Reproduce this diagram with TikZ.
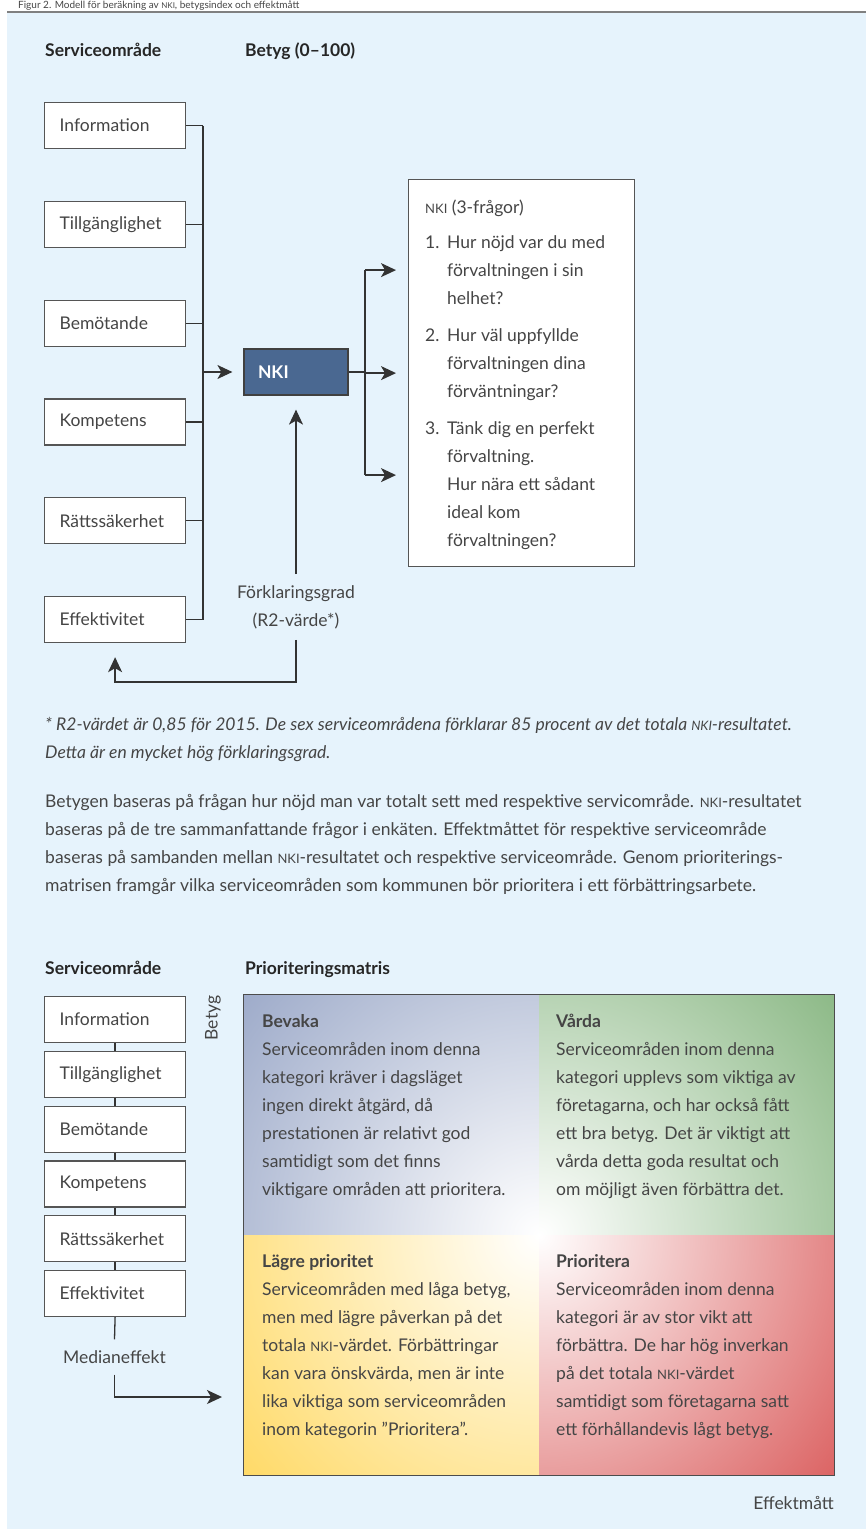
\documentclass[tikz,border=0pt]{standalone}
\usepackage{fontspec}
\setmainfont{Lato}
\usetikzlibrary{arrows,arrows.meta,positioning}

\definecolor{bakgrund}{HTML}{E6F3FC}
\definecolor{textgra}{HTML}{454545}
\definecolor{ramgra}{HTML}{555555}
\definecolor{nkibla}{HTML}{4A6891}
\definecolor{bevakafarg}{HTML}{97A5C6}
\definecolor{vardafarg}{HTML}{84B47E}
\definecolor{lagrefarg}{HTML}{FFD75C}
\definecolor{priofarg}{HTML}{D95858}

\newcommand{\brodtext}{\fontsize{17.5}{28}\selectfont}
\newcommand{\nki}{{\fontsize{13}{13}\selectfont NKI}}

\begin{document}
\begin{tikzpicture}[
        x=1pt, y=-1pt,
        omrade/.style={
            draw=ramgra,
            fill=white,
            line width=1.2pt,
            anchor=north west,
            text width=111pt,
            inner xsep=15pt,
            inner ysep=0pt,
            minimum height=46pt,
            align=left,
            font=\brodtext,
            text=textgra
        },
        nkiruta/.style={
            draw=black!75,
            fill=nkibla,
            line width=1.2pt,
            text width=76pt,
            inner xsep=14pt,
            inner ysep=0pt,
            minimum height=46pt,
            align=left,
            font=\brodtext\bfseries,
            text=white
        },
        rubrik/.style={anchor=base west, inner sep=0pt, font=\brodtext\bfseries, text=black!85},
        brod/.style={inner sep=0pt, align=left, font=\brodtext, text=textgra},
        linje/.style={draw=black!80, line width=1.3pt},
        pil/.style={
           linje,
           -{Stealth[length=15pt, width=14pt, inset=4pt]}
        }
    ]
    \useasboundingbox (0,0) rectangle (866,1530);
    \clip (0,0) rectangle (866,1530);
    \fill[bakgrund] (7,13) rectangle (866,1529);
    \draw[gray, line width=2pt] (7,12) -- (866,12);
    \node[brod, anchor=base west, font=\fontsize{10}{12}\selectfont] (figurtext) at (18,9)
        {Figur 2. Modell för beräkning av {\fontsize{8}{8}\selectfont NKI}, betygsindex och effektmått};

    % upper model
    \node[rubrik] (omr1) at (45,57) {Serviceområde};
    \node[rubrik] (betyg1) at (245,57) {Betyg (0–100)};
    \coordinate (samla) at (203,372);
    \foreach \namn/\txt [count=\i from 0] in {info/Information, tillg/Tillgänglighet,
        bemot/Bemötande, komp/Kompetens, ratt/Rättssäkerhet, eff/Effektivitet}{
        \node[omrade] (\namn) at (44,{102+98.8*\i}) {\txt};
        \draw[linje] (\namn.east) -- (\namn.east -| samla);
    }
    \draw[linje] (info.east -| samla) -- (eff.east -| samla);

    \node[nkiruta] (nki) at (296,372) {NKI};
    \draw[pil] (samla) -- ([xshift=-11pt]nki.west);

    \node[draw=ramgra, fill=white, line width=1.2pt, anchor=north west, inner sep=0pt,
        minimum width=226pt, minimum height=387pt] (fragor) at (408,179) {};
    \node[brod, anchor=north west] (fragetext) at (425,200)
        {\nki\ (3-frågor)\\[7pt]\makebox[22pt][l]{1.}Hur nöjd var du med\\\hspace*{22pt}förvaltningen i sin\\\hspace*{22pt}helhet?\\[9pt]\makebox[22pt][l]{2.}Hur väl uppfyllde\\\hspace*{22pt}förvaltningen dina\\\hspace*{22pt}förväntningar?\\[9pt]\makebox[22pt][l]{3.}Tänk dig en perfekt\\\hspace*{22pt}förvaltning.\\\hspace*{22pt}Hur nära ett sådant\\\hspace*{22pt}ideal kom\\\hspace*{22pt}förvaltningen?};

    \coordinate (gaffel) at (365,372);
    \coordinate (ut1) at ([xshift=-12pt, yshift=103pt]fragor.west);
    \coordinate (ut2) at ([xshift=-12pt]fragor.west);
    \coordinate (ut3) at ([xshift=-12pt, yshift=-102pt]fragor.west);
    \draw[linje] (nki.east) -- (gaffel);
    \draw[linje] (gaffel |- ut1) -- (gaffel |- ut3);
    \foreach \ut in {ut1, ut2, ut3}
        \draw[pil] (gaffel |- \ut) -- (\ut);

    \node[brod, align=center, inner ysep=11pt, anchor=north] (forkl) at (296,574)
        {Förklaringsgrad\\(R2-värde*)};
    \draw[pil] (forkl.north) -- ([yshift=-14pt]nki.south);
    \draw[pil] (forkl.south) -- ++(0,42) -| ([yshift=-14pt]eff.south);

    \node[brod, anchor=north west, font=\brodtext\itshape] (fotnot) at (45,717)
        {* R2-värdet är 0,85 för 2015. De sex serviceområdena förklarar 85 procent av det totala \nki-resultatet.\\Detta är en mycket hög förklaringsgrad.};
    \node[brod, anchor=north west] (stycke) at (45,794)
        {Betygen baseras på frågan hur nöjd man var totalt sett med respektive servicområde. \nki-resultatet\\baseras på de tre sammanfattande frågor i enkäten. Effektmåttet för respektive serviceområde\\baseras på sambanden mellan \nki-resultatet och respektive serviceområde. Genom prioriterings-\\matrisen framgår vilka serviceområden som kommunen bör prioritera i ett förbättringsarbete.};

    % prioriteringsmatris
    \node[rubrik] (omr2) at (45,974) {Serviceområde};
    \node[rubrik] (matrisrubrik) at (245,974) {Prioriteringsmatris};
    \foreach \namn/\txt [count=\i from 0] in {infob/Information, tillgb/Tillgänglighet,
        bemotb/Bemötande, kompb/Kompetens, rattb/Rättssäkerhet, effb/Effektivitet}
        \node[omrade] (\namn) at (44,{996+54.8*\i}) {\txt};
    \foreach \a/\b in {infob/tillgb, tillgb/bemotb, bemotb/kompb, kompb/rattb, rattb/effb}
        \draw[linje] (\a.south) -- (\b.north);
    \node[brod, inner ysep=11pt] (median) at (114.5,1357) {Medianeffekt};
    \draw[linje] (effb.south) -- (median.north);
    \coordinate (pilmal) at (222,1397);
    \draw[pil] (median.south) |- (pilmal);
    \node[brod, rotate=90] (betygaxel) at (213,1018) {Betyg};

    \node[minimum width=590pt, minimum height=480pt, inner sep=0pt] (matris) at (539,1235) {};
    \foreach \horn/\farg in {north west/bevakafarg, north east/vardafarg,
        south west/lagrefarg, south east/priofarg}{
        \begin{scope}
            \clip (matris.\horn) rectangle (matris.center);
            \shade[inner color=white, outer color=\farg] (matris.center) circle (410pt);
        \end{scope}
    }
    \draw[draw=black!70, line width=1.2pt] (matris.north west) rectangle (matris.south east);

    \node[brod, anchor=north west] (bevaka) at (262,1014)
        {\textbf{Bevaka}\\Serviceområden inom denna\\kategori kräver i dagsläget\\ingen direkt åtgärd, då\\prestationen är relativt god\\samtidigt som det finns\\viktigare områden att prioritera.};
    \node[brod, anchor=north west] (varda) at (556,1014)
        {\textbf{Vårda}\\Serviceområden inom denna\\kategori upplevs som viktiga av\\företagarna, och har också fått\\ett bra betyg. Det är viktigt att\\vårda detta goda resultat och\\om möjligt även förbättra det.};
    \node[brod, anchor=north west] (lagre) at (262,1254)
        {\textbf{Lägre prioritet}\\Serviceområden med låga betyg,\\men med lägre påverkan på det\\totala \nki-värdet. Förbättringar\\kan vara önskvärda, men är inte\\lika viktiga som serviceområden\\inom kategorin ”Prioritera”.};
    \node[brod, anchor=north west] (prio) at (556,1254)
        {\textbf{Prioritera}\\Serviceområden inom denna\\kategori är av stor vikt att\\förbättra. De har hög inverkan\\på det totala \nki-värdet\\samtidigt som företagarna satt\\ett förhållandevis lågt betyg.};

    \node[brod, anchor=base east] (effektmatt) at (834,1509) {Effektmått};
\end{tikzpicture}
\end{document}
